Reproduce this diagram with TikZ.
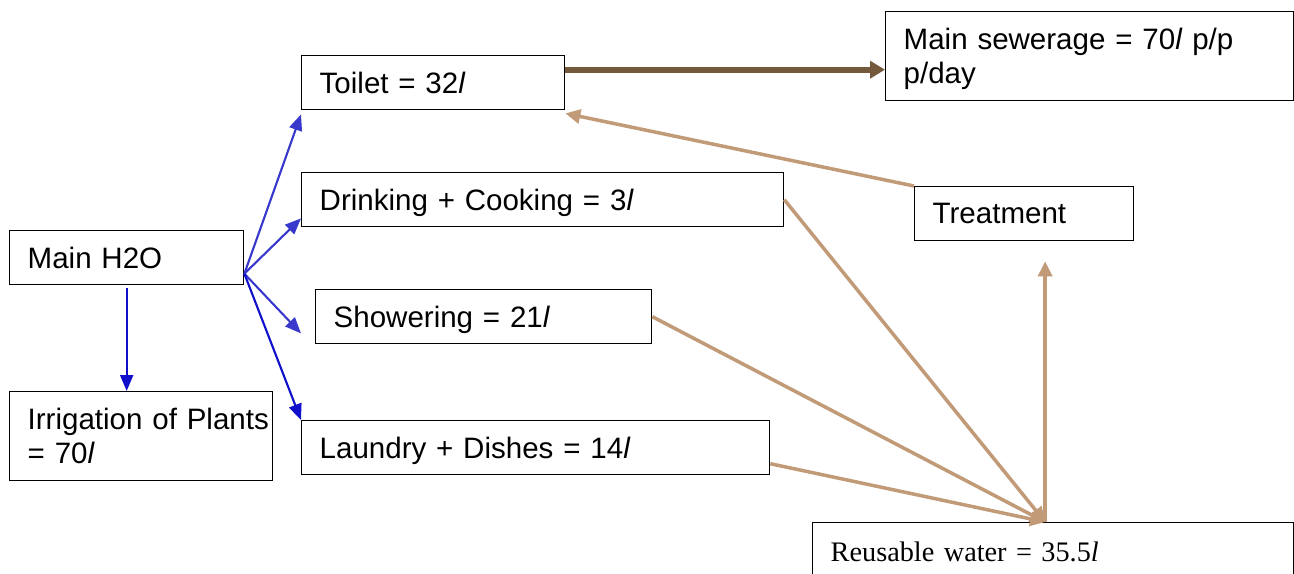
\documentclass[tikz,border=0pt]{standalone}
\usepackage{fontspec}
\setmainfont{Liberation Sans}
\newfontfamily\reusefont{Liberation Serif}
\usetikzlibrary{arrows.meta}

\definecolor{flowblue}{RGB}{56,56,204}
\definecolor{deepblue}{RGB}{16,16,204}
\definecolor{sewbrown}{RGB}{116,89,60}
\definecolor{reusetan}{RGB}{193,154,119}

\begin{document}
\begin{tikzpicture}[
    x=0.02cm, y=-0.02cm,
    box/.style={rectangle, draw, line width=0.8pt, anchor=north west, align=left, inner xsep=0.36cm, text depth=0pt, font=\fontsize{16.8}{19.4}\selectfont},
    twobox/.style={box, text depth=19.4pt},
    bluearrow/.style={-{Triangle[length=0.32cm, width=0.26cm]}, line width=1.2pt, flowblue},
    tanarrow/.style={-{Triangle[length=0.3cm, width=0.28cm]}, line width=2pt, reusetan},
    sewarrow/.style={-{Triangle[length=0.3cm, width=0.34cm]}, line width=3.4pt, sewbrown}
]
\useasboundingbox (0,0) rectangle (1294,574);

% Left column: supply
\node[box, text width=3.96cm, minimum height=1.08cm] (main) at (9,230) {Main H2O};
\node[twobox, text width=4.54cm, minimum height=1.78cm] (irr) at (9,391) {\mbox{Irrigation of Plants}\\= 70\textit{l}};

% Middle column: household uses
\node[box, text width=4.54cm, minimum height=1.08cm] (toilet) at (301,55) {Toilet = 32\textit{l}};
\node[box, text width=8.92cm, minimum height=1.08cm] (drink) at (301,172) {Drinking + Cooking = 3\textit{l}};
\node[box, text width=6.0cm, minimum height=1.08cm] (show) at (315,289) {Showering = 21\textit{l}};
\node[box, text width=8.64cm, minimum height=1.08cm] (laundry) at (301,420) {Laundry + Dishes = 14\textit{l}};

% Right side: sewerage, treatment, reuse
\node[twobox, text width=7.44cm, minimum height=1.78cm] (sewer) at (885,11) {Main sewerage = 70\textit{l} p/p\\p/day};
\node[box, text width=3.66cm, minimum height=1.08cm] (treat) at (914,186) {Treatment};
\node[box, text width=8.9cm, minimum height=1.16cm, font=\reusefont\fontsize{16.1}{19}\selectfont] (reuse) at (812,522) {Reusable water = 35.5\textit{l}};

% Hubs
\coordinate (hub) at ([yshift=-0.32cm]main.east);
\coordinate (rhub) at ([xshift=-0.16cm]reuse.north);
\coordinate (tsew) at ([yshift=0.26cm]toilet.east);

% Arrows - main supply
\draw[bluearrow] (hub) -- ([yshift=-0.08cm]toilet.south west);
\draw[bluearrow] (hub) -- ([yshift=0.18cm]drink.south west);
\draw[bluearrow] (hub) -- ([xshift=-0.28cm, yshift=0.22cm]show.south west);
\draw[bluearrow, deepblue] (hub) -- (laundry.north west);
\draw[bluearrow, deepblue] ([yshift=-0.06cm]main.south) -- (main.south |- irr.north);

% Arrow - toilet to sewerage
\draw[sewarrow] (tsew) -- (tsew -| sewer.west);

% Arrows - grey water to reuse
\draw[tanarrow] (drink.east) -- (rhub);
\draw[tanarrow] (show.east) -- (rhub);
\draw[tanarrow] ([yshift=-0.32cm]laundry.east) -- (rhub);
\draw[tanarrow] (rhub) -- ([yshift=-0.4cm]rhub |- treat.south);
\draw[tanarrow] (treat.north west) -- ([yshift=-0.06cm]toilet.south east);

\end{tikzpicture}
\end{document}
